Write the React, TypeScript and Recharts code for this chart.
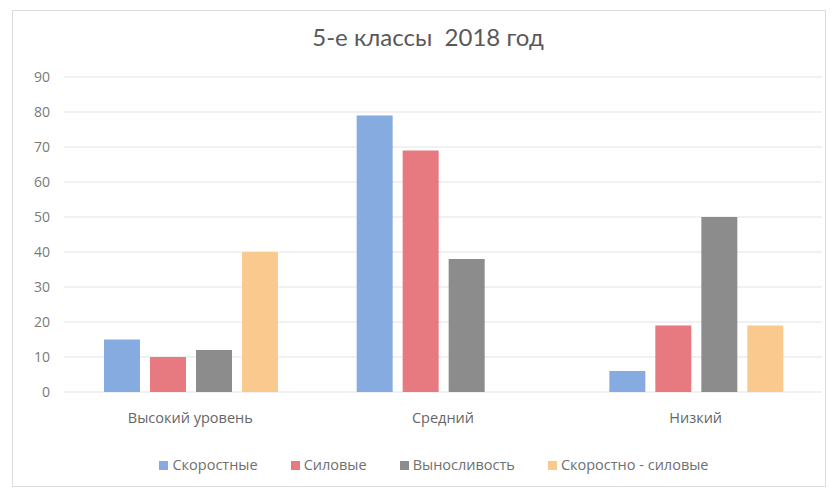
import React from 'react';
import { BarChart, Bar, XAxis, YAxis, CartesianGrid, Legend } from 'recharts';

const categories = ['Высокий уровень', 'Средний', 'Низкий'];
const speed = [15, 79, 6];
const strength = [10, 69, 19];
const endurance = [12, 38, 50];
const speedStrength = [40, 0, 19];
const yTicks = [0, 10, 20, 30, 40, 50, 60, 70, 80, 90];

const seriesNames = ['Скоростные', 'Силовые', 'Выносливость', 'Скоростно - силовые'];
const colors = ['#86abe0', '#e67a80', '#8c8c8c', '#f9c98e'];

const data = categories.map((c, i) => ({
  name: c,
  s0: speed[i],
  s1: strength[i],
  s2: endurance[i],
  s3: speedStrength[i],
}));

const TITLE_FONT = 'Lato, "Open Sans", sans-serif';
const FONT = '"Open Sans", Lato, sans-serif';

const LegendContent = () => (
  <div style={{ height: 20, lineHeight: '20px', textAlign: 'center', fontFamily: FONT, fontSize: 14.5, color: '#707070', whiteSpace: 'nowrap', paddingLeft: 46 }}>
    {seriesNames.map((n, i) => (
      <span key={n} style={{ marginLeft: i === 0 ? 0 : 33 }}>
        <span style={{ display: 'inline-block', width: 9, height: 9, background: colors[i], marginRight: 4, verticalAlign: 'middle', position: 'relative', top: -1 }} />
        {n}
      </span>
    ))}
  </div>
);

export default function App() {
  return (
    <div style={{ position: 'absolute', left: 0, top: 0, width: 834, height: 495, background: '#fff' }}>
      <div style={{ position: 'absolute', left: 12, top: 10, width: 814, height: 477, border: '1px solid #dcdcdc', boxSizing: 'border-box' }} />
      <div style={{ position: 'absolute', left: 0, top: 22, width: 856, textAlign: 'center', fontFamily: TITLE_FONT, fontSize: 24, color: '#595959', whiteSpace: 'pre' }}>
        {'5-е классы  2018 год'}
      </div>
      <BarChart
        width={834}
        height={495}
        data={data}
        margin={{ top: 77, right: 12, left: 0, bottom: 20 }}
        barCategoryGap={40}
        barGap={10}
        style={{ position: 'absolute', left: 0, top: 0 }}
      >
        <CartesianGrid horizontal vertical={false} stroke="#e3e3e3" />
        <XAxis dataKey="name" axisLine={false} tickLine={false} height={63} tickMargin={15} tick={{ fontFamily: FONT, fontSize: 14.5, fill: '#666' }} />
        <YAxis domain={[0, 90]} ticks={yTicks} axisLine={false} tickLine={false} width={64} tickMargin={8} tick={{ fontFamily: FONT, fontSize: 14, fill: '#7a7a7a' }} />
        <Legend verticalAlign="bottom" content={<LegendContent />} />
        <Bar dataKey="s0" name={seriesNames[0]} fill={colors[0]} isAnimationActive={false} />
        <Bar dataKey="s1" name={seriesNames[1]} fill={colors[1]} isAnimationActive={false} />
        <Bar dataKey="s2" name={seriesNames[2]} fill={colors[2]} isAnimationActive={false} />
        <Bar dataKey="s3" name={seriesNames[3]} fill={colors[3]} isAnimationActive={false} />
      </BarChart>
    </div>
  );
}
